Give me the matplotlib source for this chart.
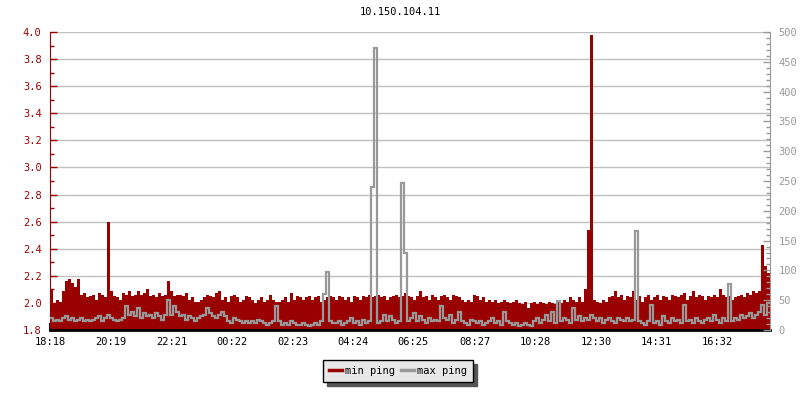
import numpy as np
import matplotlib
matplotlib.use('Agg')
import matplotlib.pyplot as plt
from matplotlib.lines import Line2D
from matplotlib.ticker import MultipleLocator, FormatStrFormatter

# -----------------------------
# Data (one value per 6 minutes)
# -----------------------------
title = '10.150.104.11'
start_time = '18:18'
step_min = 6
tick_labels = ['18:18', '20:19', '22:21', '00:22', '02:23', '04:24',
               '06:25', '08:27', '10:28', '12:30', '14:31', '16:32']

# min ping, ms (left axis)
min_ping = [
    2.10, 2.00, 2.02, 2.01, 2.09, 2.16, 2.18, 2.15, 2.12, 2.18, 2.06, 2.07, 2.04, 2.05, 2.06, 2.02, 2.07, 2.06, 2.04, 2.60,
    2.09, 2.05, 2.04, 2.02, 2.07, 2.06, 2.09, 2.05, 2.06, 2.09, 2.06, 2.07, 2.10, 2.05, 2.06, 2.04, 2.07, 2.05, 2.06, 2.16,
    2.09, 2.05, 2.06, 2.06, 2.05, 2.07, 2.02, 2.04, 2.01, 2.01, 2.02, 2.04, 2.06, 2.05, 2.04, 2.07, 2.09, 2.02, 2.04, 2.01,
    2.05, 2.06, 2.04, 2.01, 2.02, 2.05, 2.04, 2.02, 2.00, 2.02, 2.04, 2.01, 2.02, 2.06, 2.02, 2.01, 2.01, 2.02, 2.04, 2.01,
    2.07, 2.02, 2.05, 2.04, 2.02, 2.04, 2.05, 2.02, 2.04, 2.05, 2.01, 2.02, 2.04, 2.05, 2.04, 2.02, 2.05, 2.04, 2.02, 2.04,
    2.01, 2.05, 2.04, 2.02, 2.05, 2.04, 2.06, 2.04, 2.05, 2.06, 2.04, 2.05, 2.02, 2.04, 2.05, 2.06, 2.04, 2.05, 2.07, 2.05,
    2.04, 2.02, 2.05, 2.09, 2.04, 2.05, 2.02, 2.06, 2.04, 2.02, 2.05, 2.06, 2.04, 2.02, 2.06, 2.05, 2.04, 2.02, 2.01, 2.02,
    2.01, 2.06, 2.05, 2.02, 2.04, 2.01, 2.02, 2.01, 2.02, 2.00, 2.01, 2.02, 2.01, 2.00, 2.01, 2.02, 2.00, 1.99, 2.01, 1.96,
    2.00, 2.01, 1.99, 2.01, 2.00, 1.99, 2.01, 2.00, 1.99, 2.01, 2.00, 2.02, 2.01, 2.04, 2.02, 2.01, 2.04, 2.01, 2.10, 2.54,
    3.98, 2.02, 2.01, 2.00, 2.02, 2.01, 2.04, 2.05, 2.09, 2.04, 2.06, 2.02, 2.05, 2.04, 2.09, 2.02, 2.05, 2.01, 2.04, 2.06,
    2.02, 2.04, 2.06, 2.02, 2.05, 2.04, 2.02, 2.06, 2.05, 2.04, 2.06, 2.07, 2.02, 2.05, 2.09, 2.04, 2.06, 2.05, 2.02, 2.05,
    2.04, 2.06, 2.04, 2.10, 2.06, 2.04, 2.05, 2.02, 2.04, 2.05, 2.06, 2.04, 2.07, 2.06, 2.09, 2.07, 2.09, 2.43, 2.27, 2.22,
]

# max ping, ms (right axis)
max_ping = [
    20, 15, 17, 15, 20, 23, 17, 20, 15, 17, 20, 15, 17, 15, 17, 20, 23, 15, 20, 26,
    20, 17, 15, 17, 20, 40, 26, 31, 23, 37, 20, 29, 23, 26, 20, 29, 23, 17, 26, 51,
    26, 40, 31, 23, 26, 17, 23, 20, 15, 20, 23, 26, 37, 29, 23, 20, 26, 31, 23, 15,
    12, 20, 17, 15, 12, 15, 12, 15, 12, 17, 15, 12, 9, 12, 15, 40, 15, 9, 12, 9,
    15, 12, 9, 9, 12, 9, 6, 9, 12, 9, 15, 60, 97, 15, 12, 12, 15, 9, 12, 15,
    20, 12, 15, 9, 17, 12, 15, 240, 473, 12, 15, 26, 15, 23, 17, 12, 15, 247, 129, 15,
    20, 29, 15, 23, 17, 12, 20, 15, 17, 15, 40, 20, 17, 26, 12, 17, 31, 15, 12, 9,
    17, 15, 12, 15, 9, 12, 15, 20, 12, 15, 9, 31, 15, 12, 9, 12, 6, 9, 12, 9,
    6, 15, 20, 12, 17, 26, 15, 31, 12, 48, 15, 20, 17, 12, 37, 17, 23, 15, 20, 17,
    26, 20, 15, 20, 12, 17, 20, 15, 12, 20, 17, 15, 20, 15, 17, 166, 15, 12, 9, 15,
    42, 12, 15, 9, 23, 15, 12, 20, 15, 17, 12, 42, 15, 17, 12, 20, 15, 12, 17, 20,
    15, 26, 17, 12, 20, 15, 78, 15, 20, 17, 26, 20, 23, 29, 20, 26, 31, 42, 26, 45,
]

RED = '#990000'
GREY = '#999999'

plt.rcParams['font.family'] = 'DejaVu Sans Mono'
plt.rcParams['font.size'] = 7.5


def minutes_after_start(t):
    h, m = map(int, t.split(':'))
    h0, m0 = map(int, start_time.split(':'))
    return (h * 60 + m - h0 * 60 - m0) % 1440


edges = np.arange(len(min_ping) + 1) * step_min
tick_pos = [minutes_after_start(t) for t in tick_labels]

# -----------------------------
# Plot
# -----------------------------
fig = plt.figure(figsize=(8, 4), dpi=100)
ax = fig.add_axes([0.0625, 0.175, 0.9, 0.745])

ax.stairs(min_ping, edges, baseline=1.8, fill=True, color=RED, lw=0)
ax.set_xlim(0, edges[-1])
ax.set_ylim(1.8, 4.0)
ax.yaxis.set_major_locator(MultipleLocator(0.2))
ax.yaxis.set_minor_locator(MultipleLocator(0.1))
ax.yaxis.set_major_formatter(FormatStrFormatter('%.1f'))
ax.grid(axis='y', color='#c0c0c0', lw=1)
ax.set_axisbelow(True)
ax.set_xticks(tick_pos)
ax.set_xticklabels(tick_labels)

ax.tick_params(axis='y', which='major', direction='in', colors=RED, length=5, width=1, pad=6)
ax.tick_params(axis='y', which='minor', direction='in', colors=RED, length=3, width=1)
ax.tick_params(axis='x', direction='in', color='black', length=5, width=1.5, pad=5)
ax.spines['top'].set_visible(False)
ax.spines['right'].set_visible(False)
ax.spines['left'].set_color(RED)
ax.spines['bottom'].set_color('black')
ax.spines['bottom'].set_linewidth(2)

ax2 = ax.twinx()
ax2.stairs(max_ping, edges, baseline=None, color=GREY, lw=1.6)
ax2.set_xlim(0, edges[-1])
ax2.set_ylim(0, 500)
ax2.yaxis.set_major_locator(MultipleLocator(50))
ax2.yaxis.set_minor_locator(MultipleLocator(10))
ax2.tick_params(axis='y', which='major', direction='in', colors=GREY, length=5, width=1, pad=6)
ax2.tick_params(axis='y', which='minor', direction='in', colors=GREY, length=3, width=1)
for s in ['top', 'left', 'bottom']:
    ax2.spines[s].set_visible(False)
ax2.spines['right'].set_color(GREY)

fig.text(0.5, 0.97, title, ha='center', va='center', color='black')

handles = [Line2D([], [], color=RED, lw=2.5), Line2D([], [], color=GREY, lw=2.5)]
leg = fig.legend(handles, ['min ping', 'max ping'], loc='center', bbox_to_anchor=(0.4975, 0.0725),
                 ncol=2, frameon=True, fancybox=False,
                 shadow={'ox': 3, 'oy': -3, 'color': '#555555', 'alpha': 1},
                 edgecolor='black', facecolor='#e8e8e8', framealpha=1,
                 handlelength=1.2, handletextpad=0.3, columnspacing=0.6, borderpad=0.6)
leg.get_frame().set_linewidth(1.0)

fig.savefig('out.png', dpi=100)
